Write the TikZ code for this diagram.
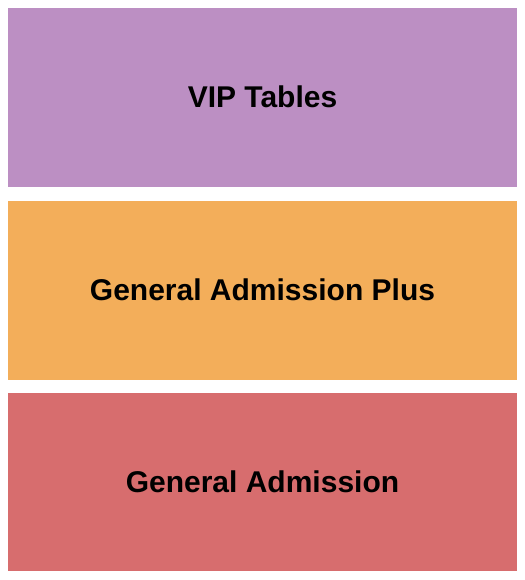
\documentclass[tikz,border=0pt]{standalone}
\usepackage{fontspec}
\setmainfont{Liberation Sans}
\definecolor{vip}{HTML}{BC8FC3}
\definecolor{gap}{HTML}{F3AE5A}
\definecolor{ga}{HTML}{D76D6E}
\begin{document}
\begin{tikzpicture}[x=1bp,y=-1bp,
  section/.style={inner sep=0pt},
  lbl/.style={font=\bfseries\fontsize{30bp}{35bp}\selectfont, text=black}]
\useasboundingbox (0,0) rectangle (525,580);
\fill[white] (0,0) rectangle (525,580);
\fill[vip] (8,8) rectangle (517,187);
\fill[gap] (8,201) rectangle (517,380);
\fill[ga] (8,393) rectangle (517,571);
\node[lbl] (vipt) at (262.5,97) {VIP Tables};
\node[lbl] (gapl) at (262.5,290) {General Admission Plus};
\node[lbl] (gadm) at (262.5,482) {General Admission};
\end{tikzpicture}
\end{document}
